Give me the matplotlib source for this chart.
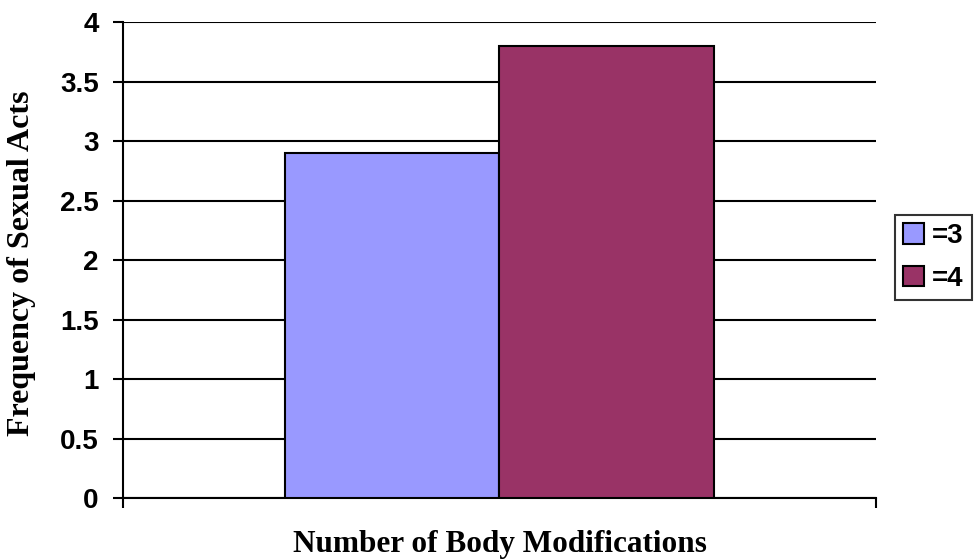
import matplotlib.pyplot as plt
import numpy as np

# data
categories = ['']
series_names = ['=3', '=4']
series_values = [[2.9], [3.8]]
colors = ['#9999FF', '#993366']
yticks = [0, 0.5, 1, 1.5, 2, 2.5, 3, 3.5, 4]
yticklabels = ['0', '0.5', '1', '1.5', '2', '2.5', '3', '3.5', '4']

fig = plt.figure(figsize=(9.74, 5.6), dpi=100)
ax = fig.add_axes([0.1263, 0.1107, 0.773, 0.85])

width = 0.2855
x = np.arange(len(categories)) + 0.5
for j, (name, vals) in enumerate(zip(series_names, series_values)):
	offset = (j - (len(series_names) - 1) / 2) * width
	ax.bar(x + offset, vals, width, color=colors[j], edgecolor='black',
		linewidth=1.5, label=name, zorder=3)

ax.set_xlim(0, len(categories))
ax.set_ylim(0, 4)
ax.set_yticks(yticks)
ax.set_yticklabels(yticklabels, fontfamily='Liberation Sans', fontweight='bold', fontsize=20)
ax.set_xticks(np.arange(len(categories) + 1))
ax.set_xticklabels([''] * (len(categories) + 1))
ax.tick_params(axis='both', direction='out', length=7.5, width=1.5, color='black', pad=10)
ax.yaxis.grid(True, color='black', linewidth=1.5, zorder=0)
ax.set_axisbelow(True)
for side in ['top', 'right']:
	ax.spines[side].set_visible(False)
for side in ['left', 'bottom']:
	ax.spines[side].set_linewidth(1.5)

# axis titles placed in figure coords
fig.text(0.5128, 1 - 552 / 560, 'Number of Body Modifications', ha='center', va='baseline',
	fontfamily='Liberation Serif', fontweight='bold', fontsize=22.5)
fig.text(22 / 974, 1 - 263 / 560, 'Frequency of Sexual Acts', ha='center', va='center',
	rotation=90, fontfamily='Liberation Serif', fontweight='bold', fontsize=23)

leg = fig.legend(loc='upper right', bbox_to_anchor=(972 / 974, 1 - 215 / 560),
	prop={'family': 'Liberation Sans', 'weight': 'bold', 'size': 20},
	frameon=True, fancybox=False, edgecolor='black', handlelength=0.75,
	handleheight=0.75, handletextpad=0.28, borderpad=0.3, labelspacing=0.6,
	borderaxespad=0)
leg.get_frame().set_linewidth(1.5)
for h in leg.legend_handles:
	h.set_linewidth(1.5)

plt.savefig('out.png', dpi=100)
